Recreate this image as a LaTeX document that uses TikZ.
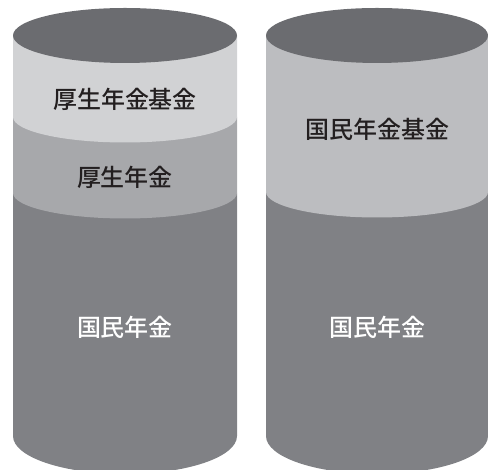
\documentclass[tikz,border=0pt]{standalone}
\usepackage{fontspec}
\newfontfamily\cjk{Noto Sans CJK JP Medium}
\definecolor{topgray}{HTML}{6B6C70}
\definecolor{darkgray}{HTML}{808185}
\definecolor{midgray}{HTML}{A7A8AB}
\definecolor{lightgray}{HTML}{D1D2D4}
\definecolor{rightlight}{HTML}{BCBDC0}
\definecolor{textdark}{HTML}{231F20}
\tikzset{
  lbl/.style={inner sep=0pt, font=\cjk\fontsize{24}{24}\selectfont},
  darklbl/.style={lbl, text=textdark},
  whitelbl/.style={lbl, text=white}
}
\begin{document}
\begin{tikzpicture}[x=1pt,y=1pt]
\useasboundingbox (0,0) rectangle (488,470);
\clip (0,0) rectangle (488,470);
% left cylinder
\fill[darkgray] (13,277) -- (13,34) arc[start angle=180,end angle=360,x radius=112,y radius=38] -- (237,277) -- cycle;
\fill[midgray] (13,353) -- (13,277) arc[start angle=180,end angle=360,x radius=112,y radius=25.5] -- (237,353) -- cycle;
\fill[lightgray] (13,434.5) -- (13,353) arc[start angle=180,end angle=360,x radius=112,y radius=25.5] -- (237,434.5) -- cycle;
\fill[topgray] (125,434.5) ellipse[x radius=112,y radius=27.5];
% right cylinder
\fill[darkgray] (266,278) -- (266,34) arc[start angle=180,end angle=360,x radius=111,y radius=38] -- (488,278) -- cycle;
\fill[rightlight] (266,434.5) -- (266,278) arc[start angle=180,end angle=360,x radius=111,y radius=25.5] -- (488,434.5) -- cycle;
\fill[topgray] (377,434.5) ellipse[x radius=111,y radius=27.5];
% labels
\node[darklbl] (kfund) at (125,371) {厚生年金基金};
\node[darklbl] (kosei) at (125,292.5) {厚生年金};
\node[whitelbl] (kokuL) at (125,143) {国民年金};
\node[darklbl] (nfund) at (377,341) {国民年金基金};
\node[whitelbl] (kokuR) at (377,142.5) {国民年金};
\end{tikzpicture}
\end{document}
